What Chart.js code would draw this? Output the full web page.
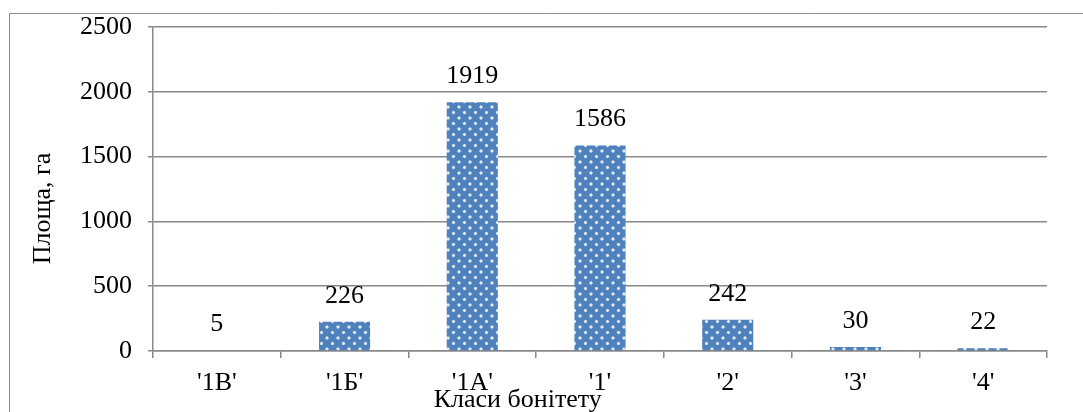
<!DOCTYPE html>
<html>
<head>
<meta charset="utf-8">
<script src="https://cdn.jsdelivr.net/npm/chart.js@4"></script>
<style>
  html, body { margin: 0; padding: 0; background: #fff; }
  #wrap { width: 1083px; height: 412px; position: relative; }
</style>
</head>
<body>
<div id="wrap"><canvas id="bonitetChart" width="1083" height="412"></canvas></div>
<script>
var klasy = ["'1В'", "'1Б'", "'1А'", "'1'", "'2'", "'3'", "'4'"];
var ploshcha = [5, 226, 1919, 1586, 242, 30, 22];
var yTicks = [0, 500, 1000, 1500, 2000, 2500];

var FONT = "'Liberation Serif', 'Times New Roman', serif";
var GRID = '#898989';

// blue fill with white dots, like the Excel pattern
function dotPattern() {
    var c = document.createElement('canvas');
    c.width = 11; c.height = 11;
    var g = c.getContext('2d');
    g.fillStyle = '#4f81bd';
    g.fillRect(0, 0, 11, 11);
    [[2.5, 2.5], [8, 8]].forEach(function (p) {
        var grd = g.createRadialGradient(p[0], p[1], 0, p[0], p[1], 2.2);
        grd.addColorStop(0, 'rgba(255,255,255,1)');
        grd.addColorStop(0.5, 'rgba(255,255,255,0.75)');
        grd.addColorStop(1, 'rgba(255,255,255,0)');
        g.fillStyle = grd;
        g.beginPath();
        g.arc(p[0], p[1], 2.2, 0, Math.PI * 2);
        g.fill();
    });
    return g.createPattern(c, 'repeat');
}

var extras = {
    id: 'extras',
    beforeDraw: function (chart) {
        var ctx = chart.ctx;
        ctx.save();
        ctx.strokeStyle = '#8c8c8c';
        ctx.lineWidth = 1;
        ctx.beginPath();
        ctx.moveTo(9.5, 412);
        ctx.lineTo(9.5, 13.5);
        ctx.lineTo(1083, 13.5);
        ctx.stroke();
        ctx.restore();
    },
    afterDatasetsDraw: function (chart) {
        var ctx = chart.ctx;
        var area = chart.chartArea;
        ctx.save();
        ctx.fillStyle = '#000';
        ctx.font = '26px ' + FONT;
        ctx.textAlign = 'center';
        ctx.textBaseline = 'alphabetic';
        chart.getDatasetMeta(0).data.forEach(function (bar, i) {
            ctx.fillText(String(ploshcha[i]), bar.x, bar.y - 19);
        });
        // axis titles
        ctx.fillText('Класи бонітету', area.left + (area.right - area.left) * 0.408, 407);
        ctx.translate(50, area.top + (area.bottom - area.top) * 0.56);
        ctx.rotate(-Math.PI / 2);
        ctx.fillText('Площа, га', 0, 0);
        ctx.restore();
    }
};

document.addEventListener("DOMContentLoaded", function () {
    var ctx = document.getElementById('bonitetChart').getContext('2d');

    new Chart(ctx, {
        type: 'bar',
        data: {
            labels: klasy,
            datasets: [{
                label: 'Площа, га',
                data: ploshcha,
                backgroundColor: dotPattern(),
                borderWidth: 0,
                barPercentage: 0.4,
                categoryPercentage: 1.0
            }]
        },
        options: {
            responsive: false,
            animation: false,
            events: [],
            layout: { padding: { left: 0, right: 36, top: 27, bottom: 0 } },
            plugins: {
                legend: { display: false },
                tooltip: { enabled: false }
            },
            scales: {
                x: {
                    afterFit: function (scale) { scale.height = 61; },
                    grid: { drawOnChartArea: false, drawTicks: true, tickLength: 7, color: GRID, lineWidth: 1.5 },
                    border: { display: true, color: GRID, width: 1.5 },
                    ticks: { color: '#000', font: { family: FONT, size: 26 }, padding: 10 }
                },
                y: {
                    min: 0,
                    max: 2500,
                    afterFit: function (scale) { scale.width = 153; scale.paddingTop = 0; },
                    afterBuildTicks: function (scale) {
                        scale.ticks = yTicks.map(function (v) { return { value: v }; });
                    },
                    grid: { color: GRID, lineWidth: 1.5, tickLength: 5 },
                    border: { display: true, color: GRID, width: 1.5 },
                    ticks: {
                        color: '#000', font: { family: FONT, size: 26 }, padding: 16,
                        callback: function (v) { return String(v); }
                    }
                }
            }
        },
        plugins: [extras]
    });
});
</script>
</body>
</html>
